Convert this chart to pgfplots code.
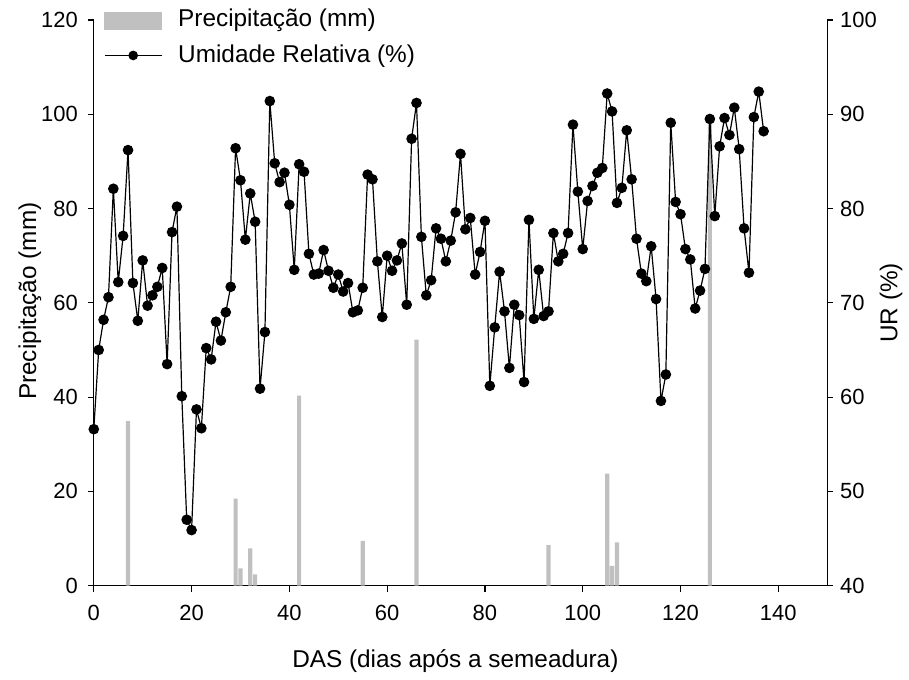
\documentclass[border=0pt]{standalone}
\usepackage{fontspec}
\setmainfont{Liberation Sans}
\usepackage{pgfplots}
\pgfplotsset{compat=1.18}
\definecolor{barcol}{RGB}{192,192,192}
\begin{document}
\begin{tikzpicture}
\pgfplotsset{
  common/.style={
    scale only axis, width=367.5pt, height=283.5pt,
    xmin=0, xmax=150,
    tick align=outside, major tick length=3pt,
    tick style={black, line width=0.6pt},
    axis line style={black, line width=0.6pt, -},
    tick label style={font=\fontsize{11}{13}\selectfont, black},
    label style={font=\fontsize{12.2}{14}\selectfont, black},
    /pgf/number format/assume math mode=true,
    clip=false,
  }
}
\begin{axis}[common,
  axis x line*=bottom, axis y line*=left,
  ymin=0, ymax=120, ytick={0,20,...,120}, xtick={0,20,...,140},
  xticklabel style={yshift=-3pt},
  yticklabel style={xshift=-1.5pt},
  xlabel={DAS (dias após a semeadura)}, ylabel={Precipitação (mm)},
  xlabel style={at={(axis description cs:0.493,-0.134)}, anchor=center},
  ylabel style={at={(axis description cs:-0.087,0.503)}, anchor=center},
]
\addplot[ybar, bar width=0.85, fill=barcol, draw=none] coordinates {
(7,34.9) (29,18.5) (30,3.7) (32,7.9) (33,2.4) (42,40.3) (55,9.5) (66,52.2)
(93,8.6) (105,23.8) (106,4.2) (107,9.2) (126,99)
};
\end{axis}
\begin{axis}[common,
  axis x line=none, axis y line*=right,
  ymin=40, ymax=100, ytick={40,50,...,100},
  ylabel={UR (\%)},
  ylabel style={at={(axis description cs:1.087,0.5)}, anchor=center},
  legend style={at={(axis description cs:0.0136,1.021)}, anchor=north west,
    draw=none, fill=none, inner sep=0pt, font=\fontsize{12.2}{14}\selectfont,
    row sep=7.5pt, column sep=8pt, nodes={inner sep=0pt}},
  legend cell align=left,
]
\addlegendimage{legend image code/.code={\fill[barcol] (0pt,-5.5pt) rectangle (28.5pt,3pt);}}
\addlegendentry{Precipitação (mm)}
\addplot[black, line width=0.6pt, mark=*, mark size=2.35pt, mark options={fill=black},
  legend image code/.code={\draw[mark repeat=2, mark phase=2, mark size=2.1pt] plot coordinates {(0pt,0pt) (14.25pt,0pt) (28.5pt,0pt)};}]
coordinates {
(0,56.6) (1,65.0) (2,68.2) (3,70.6) (4,82.1) (5,72.2) (6,77.1) (7,86.2) (8,72.1) (9,68.1)
(10,74.5) (11,69.7) (12,70.8) (13,71.7) (14,73.7) (15,63.5) (16,77.5) (17,80.2) (18,60.1) (19,47.0)
(20,45.9) (21,58.7) (22,56.7) (23,65.2) (24,64.0) (25,68.0) (26,66.0) (27,69.0) (28,71.7) (29,86.4)
(30,83.0) (31,76.7) (32,81.6) (33,78.6) (34,60.9) (35,66.9) (36,91.4) (37,84.8) (38,82.8) (39,83.8)
(40,80.4) (41,73.5) (42,84.7) (43,83.9) (44,75.2) (45,73.0) (46,73.1) (47,75.6) (48,73.4) (49,71.6)
(50,73.0) (51,71.2) (52,72.1) (53,69.0) (54,69.2) (55,71.6) (56,83.6) (57,83.1) (58,74.4) (59,68.5)
(60,75.0) (61,73.4) (62,74.5) (63,76.3) (64,69.8) (65,87.4) (66,91.2) (67,77.0) (68,70.8) (69,72.4)
(70,77.9) (71,76.8) (72,74.4) (73,76.6) (74,79.6) (75,85.8) (76,77.8) (77,79.0) (78,73.0) (79,75.4)
(80,78.7) (81,61.2) (82,67.4) (83,73.3) (84,69.1) (85,63.1) (86,69.8) (87,68.7) (88,61.6) (89,78.8)
(90,68.3) (91,73.5) (92,68.6) (93,69.1) (94,77.4) (95,74.4) (96,75.2) (97,77.4) (98,88.9) (99,81.8)
(100,75.7) (101,80.8) (102,82.4) (103,83.8) (104,84.3) (105,92.2) (106,90.3) (107,80.6) (108,82.2) (109,88.3)
(110,83.1) (111,76.8) (112,73.1) (113,72.3) (114,76.0) (115,70.4) (116,59.6) (117,62.4) (118,89.1) (119,80.7)
(120,79.4) (121,75.7) (122,74.6) (123,69.4) (124,71.3) (125,73.6) (126,89.5) (127,79.2) (128,86.6) (129,89.6)
(130,87.8) (131,90.7) (132,86.3) (133,77.9) (134,73.2) (135,89.7) (136,92.4) (137,88.2)
};
\addlegendentry{Umidade Relativa (\%)}
\end{axis}
\path[use as bounding box] (-47pt,-47pt) rectangle (407.5pt,293.5pt);
\end{tikzpicture}
\end{document}
